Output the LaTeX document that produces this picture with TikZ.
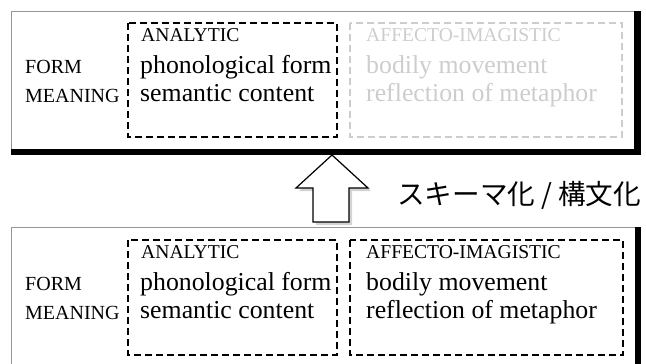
\documentclass[tikz,border=0pt]{standalone}
\usepackage{fontspec}
\setmainfont{Liberation Serif}
\newfontfamily\jpfont{Noto Sans CJK JP}
\usetikzlibrary{shadows}
\definecolor{framegray}{RGB}{150,150,150}
\definecolor{ghost}{RGB}{205,205,205}
\begin{document}
\begin{tikzpicture}[x=1pt,y=-1pt,
  frameline/.style={draw=framegray,line width=1pt},
  shadowbar/.style={fill=black},
  dbox/.style={draw=black,line width=2pt,dash pattern=on 7pt off 4pt},
  gbox/.style={draw=ghost,line width=1.7pt,dash pattern=on 7pt off 4pt},
  rowlabel/.style={anchor=base west,inner sep=0pt,font=\fontsize{20}{24}\selectfont},
  headlabel/.style={anchor=base west,inner sep=0pt,font=\fontsize{19.6}{23}\selectfont},
  celltext/.style={anchor=base west,inner sep=0pt,font=\fontsize{25.8}{30}\selectfont},
  faded/.style={text=ghost},
  jplabel/.style={anchor=west,inner sep=0pt,font=\jpfont\fontsize{27.6}{32}\selectfont}]
\useasboundingbox (0,0) rectangle (646,364);
% ---------- top panel ----------
\draw[frameline] (11,152) -- (11,11) -- (636,11);
\fill[shadowbar] (634,11) rectangle (641,155);
\fill[shadowbar] (11,149) rectangle (641,155);
\draw[dbox] (128,23) rectangle (337,137);
\draw[gbox] (350,23) rectangle (622,137);
\node[rowlabel] (tform) at (25,73) {FORM};
\node[rowlabel] (tmean) at (25,102) {MEANING};
\node[headlabel] (tana) at (141,41.5) {ANALYTIC};
\node[celltext] (tphon) at (140,73) {phonological form};
\node[celltext] (tsem) at (140,101) {semantic content};
\node[headlabel,faded] (taff) at (366,41.5) {AFFECTO-IMAGISTIC};
\node[celltext,faded] (tbod) at (366,73) {bodily movement};
\node[celltext,faded] (tref) at (366,101) {reflection of metaphor};
% ---------- arrow ----------
\draw[fill=white,line width=1.2pt,line join=miter,
      drop shadow={shadow xshift=3pt,shadow yshift=-3pt,opacity=0.35}]
  (332,155) -- (368,188) -- (349,188) -- (349,222) -- (313,222) -- (313,188) -- (296,188) -- cycle;
\node[jplabel] (jp) at (397,195) {スキーマ化 / 構文化};
% ---------- bottom panel ----------
\draw[frameline] (11,364) -- (11,227) -- (636,227);
\fill[shadowbar] (635,227) rectangle (641,364);
\draw[dbox] (128,240) rectangle (337,355);
\draw[dbox] (350,240) rectangle (623,355);
\node[rowlabel] (bform) at (25,290) {FORM};
\node[rowlabel] (bmean) at (25,319) {MEANING};
\node[headlabel] (bana) at (141,258.5) {ANALYTIC};
\node[celltext] (bphon) at (140,290) {phonological form};
\node[celltext] (bsem) at (140,318) {semantic content};
\node[headlabel] (baff) at (366,258.5) {AFFECTO-IMAGISTIC};
\node[celltext] (bbod) at (366,290) {bodily movement};
\node[celltext] (bref) at (366,318) {reflection of metaphor};
\end{tikzpicture}
\end{document}
